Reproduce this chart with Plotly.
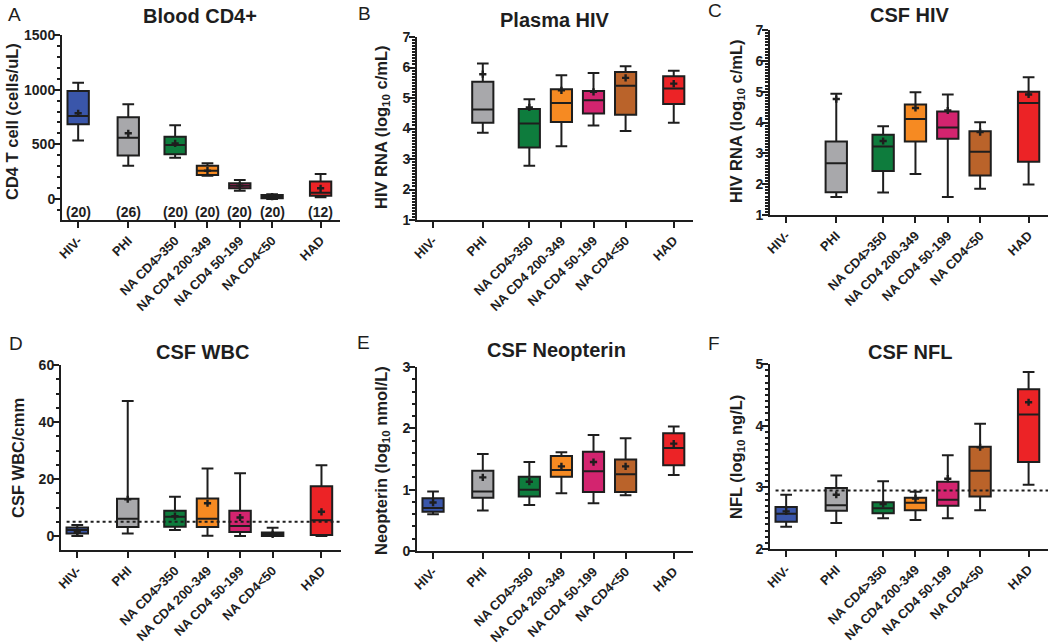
import plotly.graph_objects as go

categories = ["HIV-", "PHI", "NA CD4>350", "NA CD4 200-349", "NA CD4 50-199", "NA CD4<50", "HAD"]
positions = [0, 1.55, 3, 4, 5, 6, 7.5]
colors = ["#3A56AA", "#A8A8AB", "#0E7C3D", "#F68A22", "#D3246F", "#BA632A", "#EC2326"]
counts = ["(20)", "(26)", "(20)", "(20)", "(20)", "(20)", "(12)"]

# Panel A: Blood CD4+ (cells/uL)
cd4_low = [534, 305, 378, 213, 76, 0, 15]
cd4_q1 = [683, 399, 409, 220, 98, 6, 30]
cd4_med = [759, 561, 494, 259, 122, 21, 58]
cd4_q3 = [988, 747, 570, 305, 143, 37, 159]
cd4_high = [1064, 866, 674, 326, 174, 43, 229]
cd4_mean = [784, 601, 509, 259, 122, 21, 98]

# Panel B: Plasma HIV (log10 c/mL)  -- no HIV- data
phiv_low = [None, 3.86, 2.78, 3.42, 4.10, 3.92, 4.19]
phiv_q1 = [None, 4.19, 3.38, 4.21, 4.49, 4.45, 4.80]
phiv_med = [None, 4.62, 4.16, 4.84, 4.93, 5.40, 5.31]
phiv_q3 = [None, 5.53, 4.64, 5.29, 5.23, 5.85, 5.71]
phiv_high = [None, 6.13, 4.96, 5.75, 5.82, 6.04, 5.89]
phiv_mean = [None, 5.78, 4.69, 5.25, 5.20, 5.66, 5.47]

# Panel C: CSF HIV (log10 c/mL)
chiv_low = [None, 1.58, 1.73, 2.33, 1.58, 1.85, 1.99]
chiv_q1 = [None, 1.74, 2.43, 3.38, 3.47, 2.28, 2.73]
chiv_med = [None, 2.68, 3.22, 4.11, 3.84, 3.05, 4.63]
chiv_q3 = [None, 3.38, 3.60, 4.58, 4.36, 3.72, 5.00]
chiv_high = [None, 4.93, 3.88, 4.98, 4.91, 4.01, 5.47]
chiv_mean = [None, 4.76, 3.40, 4.47, 4.39, 3.69, 4.91]

# Panel D: CSF WBC (cells/cmm)
wbc_low = [0, 0.9, 2.1, 0.1, 0, 0, 0]
wbc_q1 = [0.9, 3.2, 3.3, 3.2, 1.4, 0, 0.35]
wbc_med = [2.1, 6.1, 6.8, 6.1, 3.5, 0.6, 5.5]
wbc_q3 = [3.0, 13.1, 8.9, 13.2, 8.9, 1.2, 17.5]
wbc_high = [3.9, 47.4, 13.8, 23.7, 22.0, 2.9, 24.8]
wbc_mean = [1.5, 12.9, 7.0, 11.5, 6.5, 0.6, 8.5]
wbc_ref = 5.0

# Panel E: CSF Neopterin (log10 nmol/L)
neo_low = [0.60, 0.66, 0.75, 0.94, 0.78, 0.91, 1.24]
neo_q1 = [0.64, 0.87, 0.89, 1.21, 0.96, 0.96, 1.40]
neo_med = [0.70, 0.97, 1.00, 1.32, 1.30, 1.25, 1.68]
neo_q3 = [0.86, 1.31, 1.21, 1.55, 1.62, 1.49, 1.92]
neo_high = [0.97, 1.58, 1.45, 1.61, 1.89, 1.84, 2.03]
neo_mean = [0.79, 1.20, 1.13, 1.38, 1.45, 1.38, 1.75]

# Panel F: CSF NFL (log10 ng/L)
nfl_low = [2.36, 2.42, 2.50, 2.47, 2.50, 2.63, 3.04]
nfl_q1 = [2.44, 2.62, 2.58, 2.63, 2.70, 2.85, 3.41]
nfl_med = [2.57, 2.71, 2.66, 2.75, 2.80, 3.27, 4.18]
nfl_q3 = [2.68, 2.99, 2.76, 2.83, 3.09, 3.66, 4.59]
nfl_high = [2.88, 3.19, 3.10, 2.93, 3.52, 4.03, 4.87]
nfl_mean = [2.61, 2.88, 2.73, 2.82, 3.14, 3.65, 4.38]
nfl_ref = 2.95

W, H = 1050, 643
FONT = "Liberation Sans, Arial, sans-serif"
INK = "#1E1E1E"

panels = [
    dict(letter="A", title="Blood CD4+", ytitle="CD4 T cell (cells/uL)",
         data=(cd4_low, cd4_q1, cd4_med, cd4_q3, cd4_high, cd4_mean),
         xpx=(62, 340), ypx=(35, 220), yrange=[-192, 1500], tickvals=[0, 500, 1000, 1500], minor=100,
         letterpos=(6, 15), titlepos=(200, 16), ytpos=(12, 122), ref=None),
    dict(letter="B", title="Plasma HIV", ytitle="HIV RNA (log<sub>10</sub> c/mL)",
         data=(phiv_low, phiv_q1, phiv_med, phiv_q3, phiv_high, phiv_mean),
         xpx=(417, 693), ypx=(37, 220), yrange=[1, 7], tickvals=[1, 2, 3, 4, 5, 6, 7], minor=0.1,
         letterpos=(356, 14), titlepos=(555, 20), ytpos=(382, 128), ref=None),
    dict(letter="C", title="CSF HIV", ytitle="HIV RNA (log<sub>10</sub> c/mL)",
         data=(chiv_low, chiv_q1, chiv_med, chiv_q3, chiv_high, chiv_mean),
         xpx=(770, 1048), ypx=(30, 215), yrange=[1, 7], tickvals=[1, 2, 3, 4, 5, 6, 7], minor=0.1,
         letterpos=(706, 10), titlepos=(910, 15), ytpos=(737, 122), ref=None),
    dict(letter="D", title="CSF WBC", ytitle="CSF WBC/cmm",
         data=(wbc_low, wbc_q1, wbc_med, wbc_q3, wbc_high, wbc_mean),
         xpx=(61, 341), ypx=(365, 550), yrange=[-4.9, 60], tickvals=[0, 20, 40, 60], minor=5,
         letterpos=(7, 343), titlepos=(202, 352), ytpos=(18, 458), ref=wbc_ref),
    dict(letter="E", title="CSF Neopterin", ytitle="Neopterin (log<sub>10</sub> nmol/L)",
         data=(neo_low, neo_q1, neo_med, neo_q3, neo_high, neo_mean),
         xpx=(417, 693), ypx=(367, 551), yrange=[0, 3], tickvals=[0, 1, 2, 3], minor=0.2,
         letterpos=(355, 342), titlepos=(556, 350), ytpos=(382, 461), ref=None),
    dict(letter="F", title="CSF NFL", ytitle="NFL (log<sub>10</sub> ng/L)",
         data=(nfl_low, nfl_q1, nfl_med, nfl_q3, nfl_high, nfl_mean),
         xpx=(770, 1048), ypx=(364, 549), yrange=[2, 5], tickvals=[2, 3, 4, 5], minor=0.1,
         letterpos=(706, 343), titlepos=(910, 352), ytpos=(737, 457), ref=nfl_ref),
]

fig = go.Figure()
annotations = []
shapes = []
layout = {}

for i, p in enumerate(panels):
    n = i + 1
    xa = "x" if n == 1 else f"x{n}"
    ya = "y" if n == 1 else f"y{n}"
    xkey = "xaxis" if n == 1 else f"xaxis{n}"
    ykey = "yaxis" if n == 1 else f"yaxis{n}"
    low, q1, med, q3, high, mean = p["data"]
    for j in range(len(categories)):
        if med[j] is None:
            continue
        fig.add_trace(go.Box(
            x=[positions[j]], q1=[q1[j]], median=[med[j]], q3=[q3[j]],
            lowerfence=[low[j]], upperfence=[high[j]],
            width=0.66, whiskerwidth=0.55, boxpoints=False,
            fillcolor=colors[j], line=dict(color=INK, width=2),
            xaxis=xa, yaxis=ya, showlegend=False, hoverinfo="skip"))
    mx = [positions[j] for j in range(len(categories)) if mean[j] is not None]
    my = [m for m in mean if m is not None]
    fig.add_trace(go.Scatter(
        x=mx, y=my, mode="markers", xaxis=xa, yaxis=ya, showlegend=False,
        marker=dict(symbol="cross", size=6, color=INK), hoverinfo="skip"))

    x0, x1 = p["xpx"]
    yt, yb = p["ypx"]
    layout[xkey] = dict(
        domain=[x0 / W, x1 / W], anchor=ya, range=[-0.5, 8.1], automargin=False,
        tickvals=positions, ticktext=categories, tickangle=-45,
        ticks="outside", ticklen=6, tickwidth=2, tickcolor=INK,
        showline=True, linewidth=2, linecolor=INK, showgrid=False, zeroline=False,
        tickfont=dict(family=FONT, size=13, color=INK, weight="bold"))
    layout[ykey] = dict(
        domain=[1 - yb / H, 1 - yt / H], anchor=xa, range=p["yrange"], automargin=False,
        tickvals=p["tickvals"], ticks="outside", ticklen=6, tickwidth=2, tickcolor=INK,
        ticklabelstandoff=-4,
        minor=dict(dtick=p["minor"], ticks="outside", ticklen=3, tickwidth=1.5, tickcolor=INK, showgrid=False),
        showline=True, linewidth=2, linecolor=INK, showgrid=False, zeroline=False,
        tickfont=dict(family=FONT, size=14, color=INK, weight="bold"))

    lx, ly = p["letterpos"]
    annotations.append(dict(text=p["letter"], x=lx / W, y=1 - ly / H, xref="paper", yref="paper",
                            showarrow=False, xanchor="left", yanchor="middle",
                            font=dict(family=FONT, size=19, color=INK)))
    tx, ty = p["titlepos"]
    annotations.append(dict(text=p["title"], x=tx / W, y=1 - ty / H, xref="paper", yref="paper",
                            showarrow=False, xanchor="center", yanchor="middle",
                            font=dict(family=FONT, size=20, color=INK, weight="bold")))
    ax, ay = p["ytpos"]
    annotations.append(dict(text=p["ytitle"], x=ax / W, y=1 - ay / H, xref="paper", yref="paper",
                            showarrow=False, xanchor="center", yanchor="middle", textangle=-90,
                            font=dict(family=FONT, size=16.5, color=INK, weight="bold")))
    if p["ref"] is not None:
        shapes.append(dict(type="line", xref=f"{xa} domain", yref=ya, x0=0.02, x1=1,
                           y0=p["ref"], y1=p["ref"], line=dict(color=INK, width=2, dash="dot")))

# count labels in panel A
for j in range(len(categories)):
    annotations.append(dict(text=counts[j], x=positions[j], y=-120, xref="x", yref="y",
                            showarrow=False, xanchor="center", yanchor="middle",
                            font=dict(family=FONT, size=14, color=INK, weight="bold")))

fig.update_layout(
    width=W, height=H, autosize=False,
    margin=dict(l=0, r=0, t=0, b=0),
    paper_bgcolor="white", plot_bgcolor="white",
    annotations=annotations, shapes=shapes, **layout)

fig.write_html("out.html", config={"displayModeBar": False},
               post_script="document.body.style.margin='0';document.body.style.overflow='hidden';")
